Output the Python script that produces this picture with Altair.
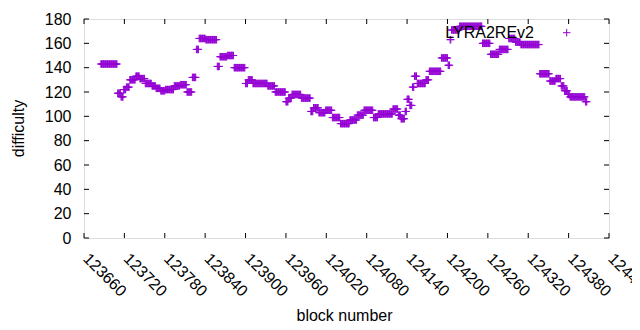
import altair as alt
import pandas as pd

# Runs of consecutive blocks with (approximately) constant difficulty
run_start = [123685, 123710, 123715, 123719, 123723, 123728, 123737, 123743, 123751, 123761,
             123767, 123774, 123781, 123794, 123803, 123813, 123821, 123827, 123831, 123841,
             123858, 123862, 123873, 123883, 123900, 123904, 123911, 123933, 123944, 123960,
             123964, 123969, 123983, 123997, 124001, 124009, 124019, 124029, 124041, 124055,
             124066, 124076, 124090, 124097, 124119, 124127, 124131, 124137, 124140, 124144,
             124148, 124151, 124155, 124168, 124173, 124191, 124201, 124204, 124206, 124218,
             124252, 124264, 124277, 124291, 124301, 124309, 124337, 124352, 124361, 124369,
             124374, 124379, 124382, 124405]
run_end = [123709, 123714, 123718, 123722, 123727, 123736, 123742, 123750, 123760, 123766,
           123773, 123780, 123793, 123802, 123812, 123820, 123826, 123830, 123840, 123857,
           123861, 123872, 123882, 123899, 123903, 123910, 123932, 123943, 123959, 123963,
           123968, 123982, 123996, 124000, 124008, 124018, 124028, 124040, 124054, 124065,
           124075, 124089, 124096, 124118, 124126, 124130, 124136, 124139, 124143, 124147,
           124150, 124154, 124167, 124172, 124190, 124200, 124203, 124205, 124217, 124251,
           124263, 124276, 124290, 124300, 124308, 124336, 124351, 124360, 124368, 124373,
           124378, 124381, 124404, 124407]
run_value = [143, 119, 116, 122, 124, 130, 133, 131, 127, 125,
             123, 121, 122, 125, 126, 120, 132, 155, 164, 163,
             141, 149, 150, 140, 127, 130, 127, 125, 120, 112,
             115, 118, 115, 104, 107, 103, 105, 99, 94, 97,
             101, 105, 99, 102, 106, 101, 98, 104, 114, 109,
             124, 133, 127, 130, 137, 148, 142, 163, 171, 174,
             160, 151, 155, 164, 161, 159, 135, 129, 131, 125,
             121, 118, 116, 112]

x_ticks = [123660, 123720, 123780, 123840, 123900, 123960, 124020,
           124080, 124140, 124200, 124260, 124320, 124380, 124440]
y_ticks = [0, 20, 40, 60, 80, 100, 120, 140, 160, 180]
series_name = ["LYRA2REv2"]

rows = []
for s, e, v in zip(run_start, run_end, run_value):
    for b in range(s, e + 1):
        rows.append({"block": b, "difficulty": v})
df = pd.DataFrame(rows)

W, H = 525, 219
TICK = 5
FONT = "Liberation Sans"
FS = 16
PURPLE = "#9400D3"
PLUS = "M-1,0L1,0M0,-1L0,1"

xs = alt.Scale(domain=[x_ticks[0], x_ticks[-1]], nice=False, zero=False)
ys = alt.Scale(domain=[y_ticks[0], y_ticks[-1]], nice=False, zero=False)

AX = alt.Axis(
    values=x_ticks, format="d", labelAngle=45, labelAlign="left",
    labelBaseline="top", tickSize=0, domain=False, grid=False,
    labelPadding=12, labelOffset=7, labelFontSize=FS, labelFont=FONT,
    labelColor="black", labelOverlap=False, labelBound=False, labelFlush=False,
    title="block number", titleFontSize=FS, titleFont=FONT,
    titleFontWeight="normal", titleColor="black",
    titleX=260, titleY=77, titleAlign="center", titleBaseline="middle")
AY = alt.Axis(
    values=y_ticks, tickSize=0, domain=False, grid=False,
    labelPadding=13, labelFontSize=FS, labelFont=FONT, labelColor="black",
    labelOverlap=False, labelBound=False, labelFlush=False,
    title="difficulty", titleFontSize=FS, titleFont=FONT,
    titleFontWeight="normal", titleColor="black",
    titleX=-66, titleY=109, titleAlign="center", titleBaseline="middle")

points = alt.Chart(df).mark_point(
    shape=PLUS, filled=False, size=56, strokeWidth=1, color=PURPLE, opacity=1
).encode(
    x=alt.X("block:Q", scale=xs, axis=AX, title="block number"),
    y=alt.Y("difficulty:Q", scale=ys, axis=AY, title="difficulty"),
)

xt = pd.DataFrame({"t": x_ticks})
yt = pd.DataFrame({"t": y_ticks})

xb = alt.Chart(xt).mark_rule(color="black", strokeWidth=1).encode(
    x=alt.X("t:Q", scale=xs, axis=AX, title="block number"),
    y=alt.value(H), y2=alt.value(H - TICK))
xtop = alt.Chart(xt).mark_rule(color="black", strokeWidth=1).encode(
    x=alt.X("t:Q", scale=xs, axis=AX, title="block number"),
    y=alt.value(0), y2=alt.value(TICK))
yl = alt.Chart(yt).mark_rule(color="black", strokeWidth=1).encode(
    y=alt.Y("t:Q", scale=ys, axis=AY, title="difficulty"),
    x=alt.value(0), x2=alt.value(TICK))
yr = alt.Chart(yt).mark_rule(color="black", strokeWidth=1).encode(
    y=alt.Y("t:Q", scale=ys, axis=AY, title="difficulty"),
    x=alt.value(W - TICK), x2=alt.value(W))

leg_df = pd.DataFrame({"name": series_name})
leg_text = alt.Chart(leg_df).mark_text(
    align="right", baseline="alphabetic", fontSize=FS, font=FONT, color="black"
).encode(text="name:N", x=alt.value(450), y=alt.value(18.5))
leg_sym = alt.Chart(leg_df).mark_point(
    shape=PLUS, filled=False, size=56, strokeWidth=1, color=PURPLE, opacity=1
).encode(x=alt.value(482.7), y=alt.value(13.7))

chart = alt.layer(points, xb, xtop, yl, yr, leg_text, leg_sym).properties(
    width=W, height=H,
    autosize=alt.AutoSizeParams(type="none"),
    padding={"left": 76, "top": 11, "right": 23, "bottom": 84},
).configure_view(stroke="black", strokeWidth=1).configure(font=FONT, background="white")

chart.save("out.html", embed_options={"renderer": "svg", "actions": False})
